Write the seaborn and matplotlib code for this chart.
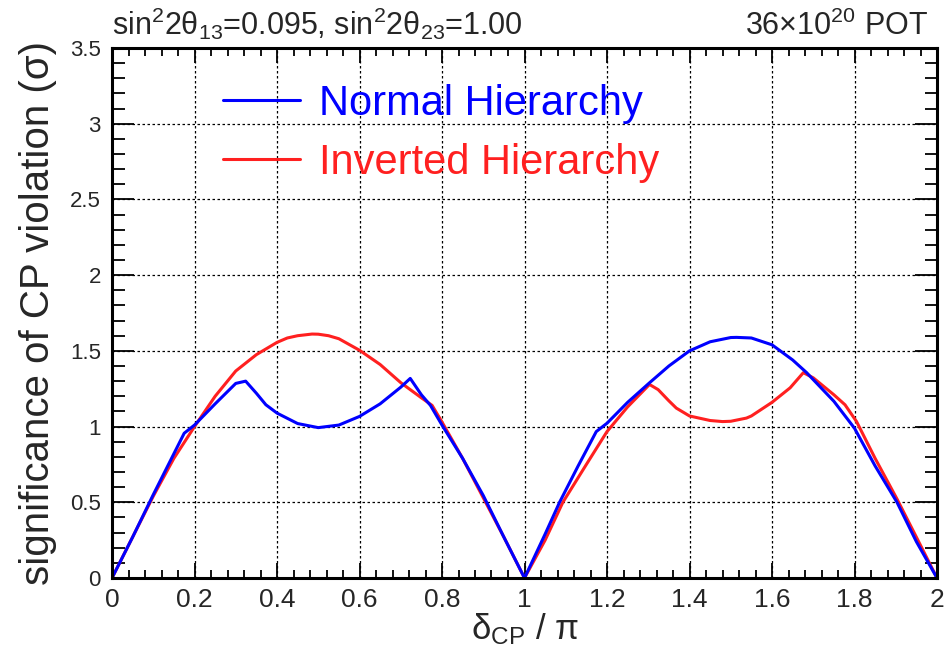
import matplotlib
matplotlib.use("Agg")
import matplotlib.pyplot as plt
from matplotlib.ticker import MultipleLocator, FormatStrFormatter
import seaborn as sns
import pandas as pd
import numpy as np

# delta_CP / pi sample points and significance
nh_x = [0.0, 0.05, 0.10, 0.175, 0.20, 0.25, 0.30, 0.324, 0.35, 0.373, 0.40, 0.45,
        0.50, 0.55, 0.60, 0.65, 0.70, 0.723, 0.75, 0.772, 0.80, 0.85, 0.90, 0.95,
        1.0, 1.05, 1.085, 1.13, 1.174, 1.20, 1.25, 1.303, 1.35, 1.40, 1.45, 1.50,
        1.514, 1.55, 1.60, 1.65, 1.684, 1.70, 1.75, 1.80, 1.85, 1.903, 1.95, 2.0]
nh_sig = [0.0, 0.27, 0.55, 0.956, 1.01, 1.15, 1.285, 1.30, 1.22, 1.144, 1.089, 1.02,
          0.993, 1.01, 1.067, 1.15, 1.26, 1.318, 1.21, 1.14, 1.01, 0.79, 0.545, 0.27,
          0.0, 0.29, 0.5, 0.74, 0.967, 1.022, 1.16, 1.289, 1.40, 1.50, 1.56, 1.588,
          1.589, 1.585, 1.54, 1.44, 1.356, 1.31, 1.167, 0.989, 0.74, 0.5, 0.24, 0.0]

ih_x = [0.0, 0.05, 0.10, 0.15, 0.20, 0.25, 0.30, 0.35, 0.40, 0.425, 0.45, 0.485, 0.50,
        0.525, 0.55, 0.60, 0.65, 0.70, 0.75, 0.776, 0.80, 0.85, 0.90, 0.95, 1.0,
        1.05, 1.093, 1.15, 1.20, 1.25, 1.303, 1.324, 1.35, 1.368, 1.40, 1.45,
        1.48, 1.50, 1.538, 1.55, 1.60, 1.644, 1.676, 1.70, 1.75, 1.777, 1.805,
        1.85, 1.903, 1.95, 2.0]
ih_sig = [0.0, 0.27, 0.54, 0.79, 1.0, 1.2, 1.367, 1.475, 1.556, 1.585, 1.60, 1.611, 1.61,
          1.60, 1.58, 1.504, 1.41, 1.29, 1.19, 1.14, 1.03, 0.79, 0.53, 0.27, 0.0,
          0.25, 0.5, 0.75, 0.967, 1.13, 1.278, 1.244, 1.17, 1.122, 1.07, 1.04,
          1.033, 1.035, 1.056, 1.07, 1.16, 1.256, 1.356, 1.322, 1.21, 1.144, 1.033,
          0.79, 0.522, 0.27, 0.0]

nh = pd.DataFrame({"delta": nh_x, "sig": nh_sig})
ih = pd.DataFrame({"delta": ih_x, "sig": ih_sig})

FEATURES = ["math", "fmt", "labels", "legend", "text", "two"]


def build(skip):
    sns.set_theme(style="ticks", rc={"axes.edgecolor": "black"})
    plt.rcParams["font.family"] = ["Liberation Sans", "DejaVu Sans"]
    if "math" not in skip:
        plt.rcParams["mathtext.fontset"] = "custom"
        plt.rcParams["mathtext.rm"] = "Liberation Sans"
        plt.rcParams["mathtext.it"] = "Liberation Sans:italic"
        plt.rcParams["mathtext.default"] = "regular"

    fig = plt.figure(figsize=(9.44, 6.49), dpi=100)
    ax = fig.add_axes([112 / 944, 71 / 649, 825 / 944, 530 / 649])

    if "two" not in skip:
        sns.lineplot(data=ih, x="delta", y="sig", color="#ff2020", lw=2.2,
                     label="Inverted Hierarchy", ax=ax)
    sns.lineplot(data=nh, x="delta", y="sig", color="#0000ff", lw=2.2,
                 label="Normal Hierarchy", ax=ax)

    ax.set_xlim(0, 2)
    ax.set_ylim(0, 3.5)
    ax.xaxis.set_major_locator(MultipleLocator(0.2))
    ax.xaxis.set_minor_locator(MultipleLocator(0.04))
    ax.yaxis.set_major_locator(MultipleLocator(0.5))
    ax.yaxis.set_minor_locator(MultipleLocator(0.1))
    ax.grid(True, which="major", color="black", linestyle=(0, (2, 2)), linewidth=0.9)

    # ROOT-like ticks: inward, on all four sides
    ax.tick_params(which="both", direction="in", bottom=True, top=True, left=True,
                   right=True, color="black", width=1.3)
    ax.tick_params(axis="x", which="major", length=11, labelsize=19, pad=7)
    ax.tick_params(axis="x", which="minor", length=6)
    ax.tick_params(axis="y", which="major", length=16, labelsize=16, pad=8)
    ax.tick_params(axis="y", which="minor", length=9)
    for s in ax.spines.values():
        s.set_linewidth(2.2)

    if "fmt" not in skip:
        ax.xaxis.set_major_formatter(FormatStrFormatter("%g"))
        ax.yaxis.set_major_formatter(FormatStrFormatter("%g"))

    if "labels" not in skip:
        ax.set_xlabel("δ$_{CP}$ / π", fontsize=25, labelpad=0)
        ax.set_ylabel("significance of CP violation (σ)", fontsize=29, labelpad=9)

    if "legend" not in skip:
        handles, labels = ax.get_legend_handles_labels()
        ax.legend(handles[::-1], labels[::-1], loc="upper left",
                  bbox_to_anchor=(0.135, 0.932), fontsize=30, frameon=False,
                  handlelength=1.85, handletextpad=0.45, labelspacing=0.45,
                  borderpad=0, borderaxespad=0, labelcolor="linecolor")
    elif ax.get_legend() is not None:
        ax.get_legend().remove()

    if "text" not in skip:
        fig.text(112 / 944, 1 - 35 / 649,
                 "sin$^{2}$2θ$_{13}$=0.095, sin$^{2}$2θ$_{23}$=1.00",
                 fontsize=22, ha="left", va="baseline")
        fig.text(928 / 944, 1 - 35 / 649, "36×10$^{20}$ POT", fontsize=22,
                 ha="right", va="baseline")
    return fig, ax


def ticks_drawn(fig):
    # look for a dark minor tick just above the bottom spine at delta = 0.12
    fig.canvas.draw()
    img = np.asarray(fig.canvas.buffer_rgba())[:, :, :3].astype(int)
    patch = img[564:574, 158:166]
    return patch.sum(axis=2).min() < 300


# try the full figure first, then drop one extra at a time if ticks vanish
tries = [set()] + [{f} for f in FEATURES] + [set(FEATURES)]
chosen = None
for skip in tries:
    fig, ax = build(skip)
    if ticks_drawn(fig):
        chosen = fig
        break
    plt.close(fig)

if chosen is None:
    chosen, ax = build(set())

chosen.savefig("out.png", dpi=100)
